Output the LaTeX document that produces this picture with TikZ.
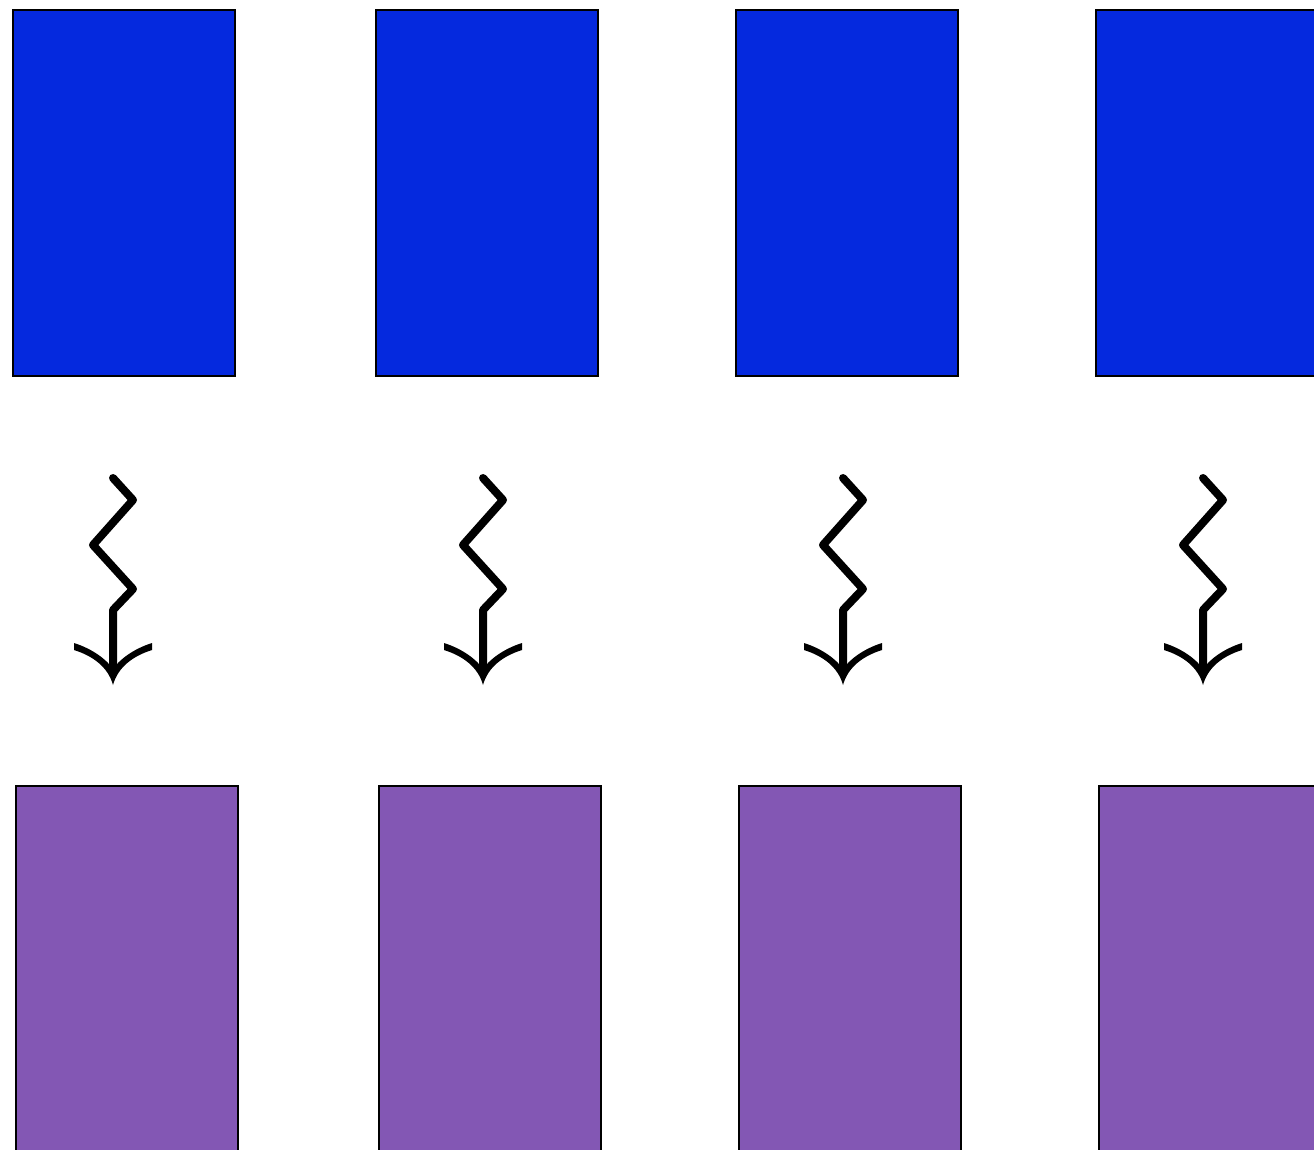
\documentclass[tikz,border=0pt]{standalone}
\usetikzlibrary{calc}
\definecolor{topblue}{RGB}{5,41,222}
\definecolor{botpurple}{RGB}{131,87,180}
\tikzset{
  boxbase/.style={draw=black,line width=2pt,inner sep=0pt,outer sep=0pt,minimum width=222pt,minimum height=366pt},
  topbox/.style={boxbase,fill=topblue},
  botbox/.style={boxbase,fill=botpurple},
  zig/.style={line width=8pt,line cap=round,line join=round},
  headfill/.style={fill=black,draw=none}
}
\begin{document}
\begin{tikzpicture}[x=1pt,y=-1pt]
\useasboundingbox (0,0) rectangle (1314,1150);
\clip (0,0) rectangle (1314,1150);
\fill[white] (0,0) rectangle (1314,1150);
% top boxes
\node[topbox] (t1) at (124,193) {};
\node[topbox] (t2) at (487,193) {};
\node[topbox] (t3) at (847,193) {};
\node[topbox] (t4) at (1207,193) {};
% bottom boxes
\node[botbox] (b1) at (126.5,969) {};
\node[botbox] (b2) at (489.5,969) {};
\node[botbox] (b3) at (849.5,969) {};
\node[botbox] (b4) at (1209.5,969) {};
% zigzag arrows
\foreach \i/\x in {1/113,2/483,3/843,4/1203}{
  \coordinate (s\i) at (\x,478);
  \coordinate (e\i) at (\x,685);
  \draw[zig] (s\i) -- ++(20,22) -- ++(-40,45) -- ++(40,44) -- ++(-20,21) -- ($(e\i)+(0,-18)$);
  \fill[headfill] ($(e\i)+(-39,-42)$) .. controls ($(e\i)+(-20,-36)$) and ($(e\i)+(-6,-25)$) .. ($(e\i)+(0,-16)$)
     .. controls ($(e\i)+(6,-25)$) and ($(e\i)+(20,-36)$) .. ($(e\i)+(39,-42)$)
     -- ($(e\i)+(39,-35)$)
     .. controls ($(e\i)+(20,-29)$) and ($(e\i)+(5,-18)$) .. (e\i)
     .. controls ($(e\i)+(-5,-18)$) and ($(e\i)+(-20,-29)$) .. ($(e\i)+(-39,-35)$) -- cycle;
}
\end{tikzpicture}
\end{document}
